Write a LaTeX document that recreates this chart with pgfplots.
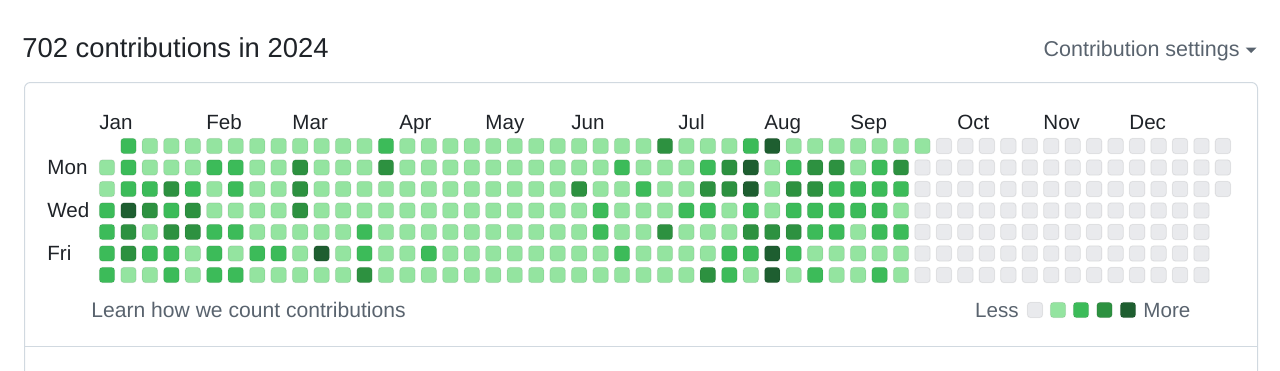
\documentclass[border=0pt]{standalone}
\usepackage{pgfplots}
\pgfplotsset{compat=1.18}
\usepackage{pgfplotstable}
\usepackage{fontspec}
\setmainfont{Liberation Sans}
\definecolor{ghtext}{HTML}{1F2328}
\definecolor{ghmuted}{HTML}{59636E}
\definecolor{ghborder}{HTML}{D1D9E0}

% rounded square mark (corner radius 1.6pt, kappa 0.552)
\pgfdeclareplotmark{ghcell}{%
  \pgfpathmoveto{\pgfpoint{-\pgfplotmarksize}{-\pgfplotmarksize+1.6pt}}%
  \pgfpathlineto{\pgfpoint{-\pgfplotmarksize}{\pgfplotmarksize-1.6pt}}%
  \pgfpathcurveto{\pgfpoint{-\pgfplotmarksize}{\pgfplotmarksize-0.717pt}}{\pgfpoint{-\pgfplotmarksize+0.717pt}{\pgfplotmarksize}}{\pgfpoint{-\pgfplotmarksize+1.6pt}{\pgfplotmarksize}}%
  \pgfpathlineto{\pgfpoint{\pgfplotmarksize-1.6pt}{\pgfplotmarksize}}%
  \pgfpathcurveto{\pgfpoint{\pgfplotmarksize-0.717pt}{\pgfplotmarksize}}{\pgfpoint{\pgfplotmarksize}{\pgfplotmarksize-0.717pt}}{\pgfpoint{\pgfplotmarksize}{\pgfplotmarksize-1.6pt}}%
  \pgfpathlineto{\pgfpoint{\pgfplotmarksize}{-\pgfplotmarksize+1.6pt}}%
  \pgfpathcurveto{\pgfpoint{\pgfplotmarksize}{-\pgfplotmarksize+0.717pt}}{\pgfpoint{\pgfplotmarksize-0.717pt}{-\pgfplotmarksize}}{\pgfpoint{\pgfplotmarksize-1.6pt}{-\pgfplotmarksize}}%
  \pgfpathlineto{\pgfpoint{-\pgfplotmarksize+1.6pt}{-\pgfplotmarksize}}%
  \pgfpathcurveto{\pgfpoint{-\pgfplotmarksize+0.717pt}{-\pgfplotmarksize}}{\pgfpoint{-\pgfplotmarksize}{-\pgfplotmarksize+0.717pt}}{\pgfpoint{-\pgfplotmarksize}{-\pgfplotmarksize+1.6pt}}%
  \pgfpathclose
  \pgfusepathqfillstroke
}
\tikzset{txt/.style={inner sep=0pt, font=\fontsize{10.3pt}{12pt}\selectfont}}
\pgfplotsset{cell/.style={scatter, only marks, mark=ghcell, mark size=3.85pt,
    point meta=explicit,
    mark options={line width=0.5pt},
    scatter/use mapped color={draw=black, draw opacity=0.07, fill=mapped color}}}

% contribution level per week (column) and weekday (s0 = Sun ... s6 = Sat); -1 = no day
\pgfplotstableread{
w s0 s1 s2 s3 s4 s5 s6
0 -1 1 1 2 2 2 2
1 2 2 2 4 3 3 1
2 1 1 2 3 1 2 1
3 1 1 3 2 3 2 2
4 1 1 2 3 3 1 1
5 1 2 1 1 2 2 2
6 1 2 2 1 2 1 2
7 1 1 1 1 1 2 1
8 1 1 1 1 1 2 1
9 1 3 3 3 1 1 1
10 1 1 1 1 1 4 1
11 1 1 1 1 1 1 1
12 1 1 1 1 2 2 3
13 2 3 1 1 1 1 1
14 1 1 1 1 1 1 1
15 1 1 1 1 1 2 1
16 1 1 1 1 1 1 1
17 1 1 1 1 1 1 1
18 1 1 1 1 1 1 1
19 1 1 1 1 1 1 1
20 1 1 1 1 1 1 1
21 1 1 1 1 1 1 1
22 1 1 3 1 1 1 1
23 1 1 1 2 2 1 1
24 1 2 1 1 1 2 1
25 1 1 2 1 1 1 1
26 3 1 1 1 3 1 1
27 1 1 1 2 1 1 1
28 1 2 3 2 1 1 3
29 1 3 3 1 1 2 2
30 2 4 4 2 3 2 1
31 4 1 1 1 3 4 4
32 1 2 3 2 3 2 1
33 1 3 3 2 2 1 2
34 1 3 2 2 2 1 1
35 1 1 2 2 1 1 1
36 1 2 2 2 2 1 2
37 1 3 2 1 2 1 1
38 1 0 0 0 0 0 0
39 0 0 0 0 0 0 0
40 0 0 0 0 0 0 0
41 0 0 0 0 0 0 0
42 0 0 0 0 0 0 0
43 0 0 0 0 0 0 0
44 0 0 0 0 0 0 0
45 0 0 0 0 0 0 0
46 0 0 0 0 0 0 0
47 0 0 0 0 0 0 0
48 0 0 0 0 0 0 0
49 0 0 0 0 0 0 0
50 0 0 0 0 0 0 0
51 0 0 0 0 0 0 0
52 0 0 0 -1 -1 -1 -1
}\contrib

\begin{document}
\begin{tikzpicture}
\begin{axis}[
  at={(0,0)}, anchor=south west,
  width=640pt, height=185pt, scale only axis,
  xmin=0, xmax=1280, ymin=0, ymax=370, y dir=reverse,
  hide axis, clip=false,
  point meta min=0, point meta max=4,
  colormap={gh}{rgb255(0)=(233,234,237) rgb255(1)=(148,228,160) rgb255(2)=(60,187,89) rgb255(3)=(45,145,64) rgb255(4)=(30,94,48)},
]
% outer box
\draw[ghborder, line width=0.5pt, rounded corners=3pt]
  (axis cs:24.5,420) -- (axis cs:24.5,82.5) -- (axis cs:1257.5,82.5) -- (axis cs:1257.5,420);
\draw[ghborder, line width=0.5pt] (axis cs:24.5,346.5) -- (axis cs:1257.5,346.5);

% cells
\pgfplotsinvokeforeach{0,...,6}{
  \addplot[cell, restrict expr to domain={\thisrow{s#1}}{0:4}]
    table[x expr={107+21.46*\thisrow{w}}, y expr={146+21.5*#1}, meta=s#1] {\contrib};
}

% legend cells
\addplot[cell] table[meta=l] {
x y l
1035 310 0
1058 310 1
1081 310 2
1104.5 310 3
1128 310 4
};

% titles and labels
\node[anchor=base west, inner sep=0pt, text=ghtext, font=\fontsize{13.7pt}{16pt}\selectfont]
  at (axis cs:22,57) {702 contributions in 2024};
\node[anchor=base east, inner sep=0pt, text=ghmuted, font=\fontsize{10.75pt}{12pt}\selectfont] at (axis cs:1240,56) {Contribution settings};
\fill[ghmuted] (axis cs:1245.5,47.5) -- (axis cs:1256.5,47.5) -- (axis cs:1251,53) -- cycle;

\node[anchor=base west, txt, text=ghtext] at (axis cs:99,129) {Jan};
\node[anchor=base west, txt, text=ghtext] at (axis cs:206,129) {Feb};
\node[anchor=base west, txt, text=ghtext] at (axis cs:292,129) {Mar};
\node[anchor=base west, txt, text=ghtext] at (axis cs:399,129) {Apr};
\node[anchor=base west, txt, text=ghtext] at (axis cs:485,129) {May};
\node[anchor=base west, txt, text=ghtext] at (axis cs:571,129) {Jun};
\node[anchor=base west, txt, text=ghtext] at (axis cs:678,129) {Jul};
\node[anchor=base west, txt, text=ghtext] at (axis cs:764,129) {Aug};
\node[anchor=base west, txt, text=ghtext] at (axis cs:850,129) {Sep};
\node[anchor=base west, txt, text=ghtext] at (axis cs:957,129) {Oct};
\node[anchor=base west, txt, text=ghtext] at (axis cs:1043,129) {Nov};
\node[anchor=base west, txt, text=ghtext] at (axis cs:1129,129) {Dec};
\node[anchor=base west, txt, text=ghtext] at (axis cs:47,174) {Mon};
\node[anchor=base west, txt, text=ghtext] at (axis cs:47,217) {Wed};
\node[anchor=base west, txt, text=ghtext] at (axis cs:47,260) {Fri};

\node[anchor=base west, inner sep=0pt, text=ghmuted, font=\fontsize{10.55pt}{12pt}\selectfont] at (axis cs:91,317) {Learn how we count contributions};
\node[anchor=base east, txt, text=ghmuted] at (axis cs:1019,317) {Less};
\node[anchor=base west, txt, text=ghmuted] at (axis cs:1143,317) {More};
\end{axis}
\pgfresetboundingbox
\path[use as bounding box] (0,0) rectangle (640pt,185pt);
\end{tikzpicture}
\end{document}
